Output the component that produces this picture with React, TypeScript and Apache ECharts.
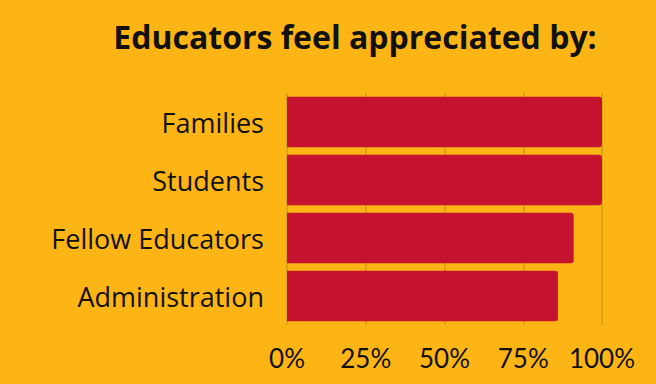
import React, { useEffect, useRef } from "react";
import * as echarts from "echarts";

const categories = ["Families", "Students", "Fellow Educators", "Administration"];
const values = [100, 100, 91, 86];
const xTicks = [0, 25, 50, 75, 100];
const title = "Educators feel appreciated by:";

export default function App() {
  const ref = useRef<HTMLDivElement>(null);
  useEffect(() => {
    if (!ref.current) return;
    const chart = echarts.init(ref.current, null, { renderer: "svg" });
    chart.setOption({
      animation: false,
      backgroundColor: "#FDB515",
      title: {
        text: title,
        left: 350,
        textAlign: "center",
        top: 15,
        textStyle: {
          fontFamily: "Open Sans",
          fontWeight: "bold",
          fontSize: 32,
          color: "#111",
        },
      },
      grid: { left: 287, top: 93, width: 315, height: 232, containLabel: false },
      xAxis: {
        type: "value",
        min: xTicks[0],
        max: xTicks[xTicks.length - 1],
        interval: 25,
        axisLine: { show: false },
        axisTick: { show: false },
        splitLine: { show: true, lineStyle: { color: "#D39E12", width: 1.5 } },
        axisLabel: {
          formatter: "{value}%",
          fontFamily: "Lato",
          fontSize: 26,
          color: "#111",
          margin: 20,
        },
      },
      yAxis: {
        type: "category",
        inverse: true,
        data: categories,
        axisLine: { show: false },
        axisTick: { show: false },
        axisLabel: {
          fontFamily: "Open Sans",
          fontSize: 27,
          color: "#111",
          margin: 23,
        },
      },
      series: [
        {
          type: "bar",
          data: values,
          barCategoryGap: "13%",
          itemStyle: { color: "#C4122F", borderRadius: [0, 3, 3, 0] },
        },
      ],
    });
    return () => chart.dispose();
  }, []);
  return <div ref={ref} style={{ width: 656, height: 384, position: "fixed", left: 0, top: 0 }} />;
}
